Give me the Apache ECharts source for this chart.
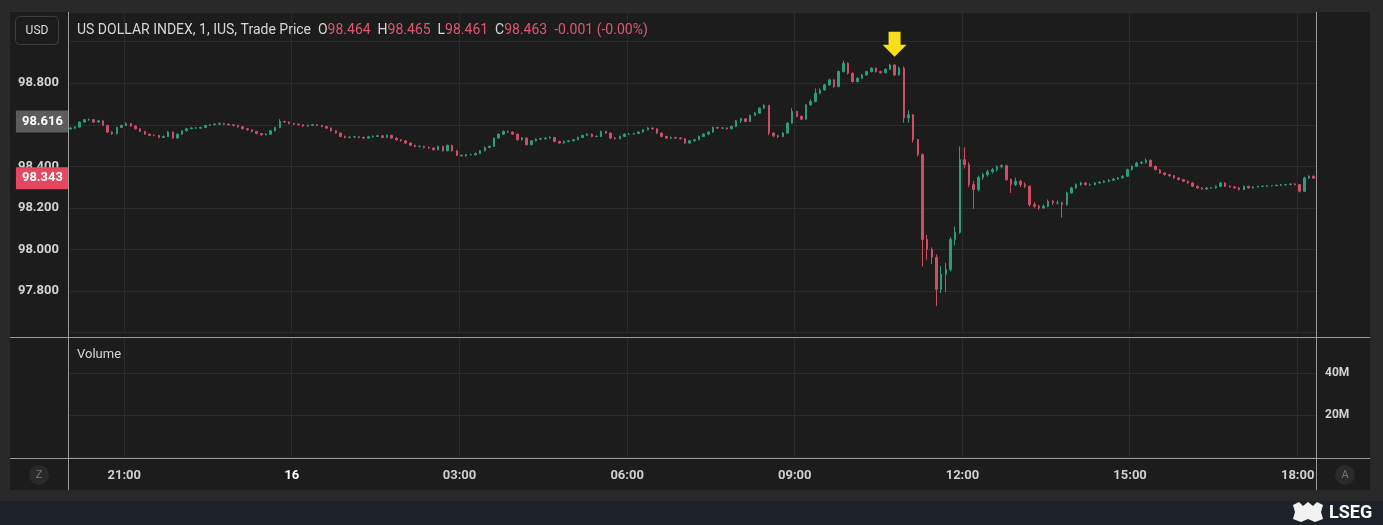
<!DOCTYPE html>
<html><head><meta charset="utf-8">
<script src="https://cdn.jsdelivr.net/npm/echarts@6/dist/echarts.min.js"></script>
<style>html,body{margin:0;padding:0;background:#262626;}#c{width:1383px;height:525px;}</style>
</head><body><div id="c"></div>
<script>
// ---- data (5-minute candles, start 20:00) ----
const startMinutes = 20 * 60;
const stepMinutes = 5;
const firstOpen = 98.580;
const closes = [
98.584,98.589,98.613,98.624,98.625,98.613,98.619,98.597,98.565,98.557,
98.587,98.597,98.606,98.594,98.581,98.568,98.555,98.549,98.549,98.539,
98.544,98.565,98.536,98.555,98.571,98.581,98.584,98.584,98.587,98.597,
98.600,98.603,98.606,98.603,98.600,98.597,98.590,98.581,98.576,98.568,
98.558,98.552,98.555,98.571,98.587,98.616,98.613,98.606,98.603,98.600,
98.594,98.597,98.600,98.597,98.592,98.584,98.571,98.560,98.544,98.539,
98.541,98.542,98.539,98.536,98.542,98.544,98.547,98.539,98.549,98.536,
98.528,98.523,98.512,98.501,98.496,98.496,98.491,98.488,98.480,98.496,
98.475,98.501,98.475,98.453,98.451,98.456,98.456,98.462,98.475,98.491,
98.496,98.536,98.555,98.568,98.565,98.555,98.528,98.536,98.504,98.523,
98.531,98.533,98.536,98.539,98.520,98.512,98.520,98.523,98.528,98.539,
98.549,98.555,98.544,98.544,98.568,98.560,98.536,98.533,98.544,98.555,
98.555,98.558,98.565,98.576,98.584,98.581,98.560,98.544,98.536,98.539,
98.536,98.533,98.512,98.523,98.528,98.544,98.555,98.565,98.587,98.584,
98.584,98.581,98.592,98.619,98.629,98.616,98.645,98.656,98.680,98.693,
98.560,98.547,98.544,98.560,98.608,98.664,98.640,98.627,98.696,98.712,
98.752,98.768,98.792,98.816,98.784,98.856,98.896,98.848,98.808,98.824,
98.840,98.856,98.872,98.856,98.851,98.867,98.888,98.840,98.872,98.634,
98.648,98.528,98.456,98.048,98.000,97.962,97.808,97.880,97.904,98.048,
98.082,98.432,98.408,98.312,98.288,98.346,98.360,98.374,98.384,98.398,
98.403,98.336,98.312,98.328,98.312,98.304,98.216,98.208,98.200,98.208,
98.232,98.224,98.224,98.216,98.272,98.296,98.312,98.320,98.312,98.312,
98.320,98.323,98.328,98.333,98.339,98.344,98.352,98.384,98.400,98.416,
98.419,98.429,98.400,98.384,98.368,98.360,98.355,98.344,98.336,98.328,
98.320,98.304,98.296,98.291,98.296,98.296,98.304,98.320,98.304,98.301,
98.296,98.288,98.304,98.296,98.301,98.304,98.304,98.307,98.307,98.309,
98.311,98.312,98.315,98.312,98.280,98.344,98.352,98.343];
const highs = [
98.590,98.593,98.617,98.628,98.630,98.627,98.624,98.621,98.600,98.568,
98.590,98.601,98.612,98.609,98.597,98.584,98.571,98.558,98.554,98.552,
98.548,98.570,98.567,98.558,98.574,98.585,98.588,98.589,98.591,98.600,
98.604,98.607,98.611,98.609,98.606,98.603,98.600,98.593,98.584,98.579,
98.571,98.561,98.559,98.574,98.590,98.627,98.620,98.616,98.609,98.606,
98.603,98.601,98.604,98.603,98.600,98.595,98.587,98.574,98.563,98.548,
98.545,98.547,98.546,98.543,98.547,98.549,98.552,98.550,98.554,98.552,
98.539,98.531,98.526,98.515,98.505,98.501,98.499,98.495,98.491,98.500,
98.499,98.505,98.504,98.478,98.457,98.460,98.461,98.466,98.479,98.495,
98.501,98.540,98.559,98.573,98.572,98.569,98.558,98.541,98.539,98.527,
98.535,98.537,98.540,98.544,98.542,98.523,98.524,98.527,98.532,98.543,
98.553,98.560,98.558,98.549,98.572,98.571,98.563,98.540,98.548,98.559,
98.560,98.562,98.569,98.580,98.588,98.587,98.583,98.563,98.547,98.543,
98.542,98.540,98.536,98.527,98.532,98.548,98.559,98.569,98.591,98.590,
98.589,98.588,98.596,98.623,98.634,98.632,98.649,98.661,98.684,98.699,
98.697,98.563,98.552,98.565,98.612,98.680,98.668,98.645,98.700,98.722,
98.775,98.776,98.797,98.822,98.820,98.862,98.909,98.900,98.852,98.829,
98.845,98.860,98.877,98.876,98.861,98.872,98.893,98.891,98.880,98.880,
98.670,98.652,98.532,98.463,98.070,98.010,97.975,97.920,97.935,98.060,
98.110,98.496,98.492,98.420,98.330,98.355,98.370,98.385,98.392,98.405,
98.410,98.408,98.342,98.345,98.335,98.322,98.308,98.228,98.215,98.218,
98.240,98.238,98.235,98.230,98.278,98.302,98.318,98.326,98.325,98.318,
98.325,98.328,98.333,98.338,98.344,98.349,98.357,98.389,98.405,98.422,
98.425,98.437,98.432,98.404,98.388,98.372,98.364,98.358,98.348,98.340,
98.332,98.324,98.308,98.300,98.300,98.301,98.308,98.325,98.323,98.308,
98.305,98.300,98.308,98.307,98.305,98.307,98.307,98.310,98.310,98.312,
98.314,98.315,98.318,98.319,98.315,98.350,98.357,98.356];
const lows = [
98.576,98.580,98.586,98.610,98.619,98.609,98.610,98.594,98.561,98.551,
98.554,98.584,98.594,98.590,98.578,98.565,98.552,98.545,98.545,98.535,
98.536,98.541,98.532,98.533,98.552,98.568,98.578,98.580,98.581,98.584,
98.594,98.597,98.600,98.599,98.596,98.593,98.586,98.577,98.572,98.564,
98.554,98.548,98.549,98.552,98.568,98.584,98.609,98.602,98.599,98.596,
98.590,98.591,98.594,98.593,98.588,98.580,98.567,98.556,98.540,98.535,
98.535,98.537,98.535,98.532,98.533,98.538,98.541,98.535,98.536,98.532,
98.524,98.519,98.508,98.497,98.492,98.491,98.487,98.484,98.476,98.477,
98.471,98.472,98.471,98.449,98.446,98.447,98.452,98.452,98.459,98.472,
98.487,98.493,98.533,98.551,98.561,98.551,98.524,98.524,98.500,98.501,
98.519,98.527,98.529,98.532,98.516,98.508,98.509,98.516,98.519,98.525,
98.536,98.546,98.540,98.540,98.541,98.556,98.532,98.529,98.530,98.541,
98.551,98.552,98.555,98.562,98.573,98.577,98.556,98.540,98.532,98.532,
98.532,98.529,98.508,98.509,98.519,98.525,98.541,98.552,98.562,98.580,
98.580,98.577,98.578,98.589,98.608,98.612,98.613,98.642,98.653,98.677,
98.550,98.541,98.536,98.540,98.557,98.605,98.636,98.622,98.624,98.692,
98.708,98.748,98.764,98.788,98.778,98.780,98.852,98.842,98.803,98.804,
98.820,98.836,98.852,98.851,98.846,98.847,98.863,98.835,98.836,98.610,
98.610,98.514,98.448,97.918,97.950,97.930,97.728,97.790,97.795,97.895,
98.020,98.075,98.390,98.300,98.195,98.280,98.335,98.350,98.365,98.376,
98.390,98.330,98.272,98.305,98.300,98.296,98.205,98.198,98.190,98.195,
98.203,98.215,98.216,98.154,98.210,98.268,98.292,98.306,98.307,98.306,
98.308,98.316,98.319,98.324,98.329,98.335,98.340,98.348,98.380,98.396,
98.410,98.414,98.396,98.380,98.364,98.356,98.350,98.340,98.332,98.324,
98.316,98.300,98.292,98.287,98.287,98.292,98.292,98.300,98.300,98.297,
98.292,98.284,98.285,98.292,98.293,98.298,98.301,98.302,98.304,98.305,
98.306,98.308,98.309,98.308,98.274,98.276,98.340,98.339];
const volumes = [];            // no volume bars visible in the reference
const tickLabels = {'21:00':'21:00','00:00':'16','03:00':'03:00','06:00':'06:00','09:00':'09:00','12:00':'12:00','15:00':'15:00','18:00':'18:00'};
const refPrice = 98.616;
const lastPrice = 98.343;
const arrowCandle = 177;
const headerTitle = 'US DOLLAR INDEX, 1, IUS, Trade Price';
const headerO = '98.464', headerH = '98.465', headerL = '98.461', headerC = '98.463', headerChg = '-0.001 (-0.00%)';
const priceMin = 97.6, priceMax = 99.143, priceStep = 0.2;
const volMax = 57.14e6, volStep = 20e6;

// ---- build ----
const cats = closes.map((c, i) => {
  const m = startMinutes + i * stepMinutes;
  const hh = Math.floor(m / 60) % 24, mm = m % 60;
  return String(hh).padStart(2, '0') + ':' + String(mm).padStart(2, '0');
});
const candles = closes.map((c, i) => [i === 0 ? firstOpen : closes[i - 1], c, lows[i], highs[i]]);
const isTick = (idx) => Object.prototype.hasOwnProperty.call(tickLabels, cats[idx]);

const UP = '#2a9e7c', DOWN = '#cf4d67';
const GRID = '#2b2b2b';
const SEP = '#9a9a9a';
const FONT = 'Roboto, "Noto Sans", sans-serif';

const chart = echarts.init(document.getElementById('c'), null, {renderer: 'canvas'});
chart.setOption({
  backgroundColor: '#1c1c1c',
  animation: false,
  textStyle: {fontFamily: FONT},
  grid: [
    {left: 68, right: 67, top: 12, height: 320.5},
    {left: 68, right: 67, top: 337, height: 120}
  ],
  xAxis: [
    {type: 'category', gridIndex: 0, data: cats, boundaryGap: true,
     axisLine: {show: false}, axisTick: {show: false}, axisLabel: {show: false},
     splitLine: {show: true, interval: (i) => isTick(i), lineStyle: {color: GRID, width: 1}}},
    {type: 'category', gridIndex: 1, data: cats, boundaryGap: true,
     axisLine: {show: false}, axisTick: {show: false},
     axisLabel: {show: true, interval: (i) => isTick(i), margin: 12, padding: [0, 4, 0, 0],
       formatter: (v) => tickLabels[v] === '16' ? '{d|16}' : '{t|' + tickLabels[v] + '}',
       rich: {t: {color: '#cfcfcf', fontSize: 13, fontWeight: 'bold', fontFamily: FONT},
              d: {color: '#ffffff', fontSize: 13, fontWeight: 'bold', fontFamily: FONT}}},
     splitLine: {show: true, interval: (i) => isTick(i), lineStyle: {color: GRID, width: 1}}}
  ],
  yAxis: [
    {type: 'value', gridIndex: 0, position: 'left', min: priceMin, max: priceMax, interval: priceStep,
     axisLine: {show: false}, axisTick: {show: false},
     splitLine: {show: true, lineStyle: {color: GRID, width: 1}},
     axisLabel: {show: true, margin: 9, color: '#d2d2d2', fontSize: 13, fontWeight: 'bold', fontFamily: FONT,
       showMaxLabel: false,
       formatter: (v) => (v < 97.7 || v > 98.95) ? '' : v.toFixed(3)}},
    {type: 'value', gridIndex: 1, position: 'right', min: 0, max: volMax, interval: volStep,
     axisLine: {show: false}, axisTick: {show: false},
     splitLine: {show: true, lineStyle: {color: GRID, width: 1}},
     axisLabel: {show: true, margin: 9, color: '#d2d2d2', fontSize: 12, fontWeight: 'bold', fontFamily: FONT,
       showMaxLabel: false, formatter: (v) => v === 0 ? '' : (v / 1e6) + 'M'}}
  ],
  series: [
    {type: 'candlestick', name: 'US DOLLAR INDEX', xAxisIndex: 0, yAxisIndex: 0, data: candles,
     clip: false, barWidth: 2,
     itemStyle: {color: UP, color0: DOWN, borderColor: UP, borderColor0: DOWN, borderWidth: 1},
     markLine: {silent: true, symbol: 'none', animation: false, z: 10, precision: 3,
       lineStyle: {color: 'rgba(0,0,0,0)', width: 1, type: 'solid'},
       label: {show: true, position: 'start', distance: 0, color: '#ffffff', fontSize: 13, fontWeight: 'bold',
               fontFamily: FONT, padding: [5, 5, 4, 6], formatter: (p) => Number(p.value).toFixed(3)},
       data: [
         {yAxis: refPrice, label: {backgroundColor: '#5c5c5c', color: '#ffffff'}},
         {yAxis: lastPrice, label: {backgroundColor: '#e4475f', color: '#ffffff'}}
       ]},
     markPoint: {silent: true, animation: false,
       data: [{coord: [cats[arrowCandle], highs[arrowCandle]],
               symbol: 'path://M6,0 L18,0 L18,13 L24,13 L12,25 L0,13 L6,13 Z',
               symbolSize: [24, 25], symbolOffset: [0, -20],
               itemStyle: {color: '#f6e01b'}, label: {show: false}}]}
    },
    {type: 'bar', name: 'Volume', xAxisIndex: 1, yAxisIndex: 1, data: volumes}
  ],
  graphic: [
    // outer frame around the panel
    {type: 'rect', z: 100, shape: {x: 0, y: 0, width: 1383, height: 12}, style: {fill: '#292929'}},
    {type: 'rect', z: 100, shape: {x: 0, y: 0, width: 10, height: 525}, style: {fill: '#292929'}},
    {type: 'rect', z: 100, shape: {x: 1370, y: 0, width: 13, height: 525}, style: {fill: '#292929'}},
    {type: 'rect', z: 100, shape: {x: 0, y: 490, width: 1383, height: 11}, style: {fill: '#292929'}},
    {type: 'rect', z: 100, shape: {x: 0, y: 501, width: 1383, height: 24}, style: {fill: '#1d212a'}},
    // separators
    {type: 'line', z: 101, shape: {x1: 10, y1: 337.5, x2: 1370, y2: 337.5}, style: {stroke: SEP, lineWidth: 1}},
    {type: 'line', z: 101, shape: {x1: 10, y1: 458.5, x2: 1370, y2: 458.5}, style: {stroke: SEP, lineWidth: 1}},
    {type: 'line', z: 101, shape: {x1: 68.5, y1: 12, x2: 68.5, y2: 490}, style: {stroke: SEP, lineWidth: 1}},
    {type: 'line', z: 101, shape: {x1: 1316.5, y1: 12, x2: 1316.5, y2: 490}, style: {stroke: SEP, lineWidth: 1}},
    // header
    {type: 'rect', z: 101, shape: {x: 15.5, y: 16.5, width: 43, height: 28, r: 4}, style: {fill: '#1c1c1c', stroke: '#3d3d3d', lineWidth: 1}},
    {type: 'text', z: 102, style: {x: 37, y: 31, text: 'USD', fill: '#dcdcdc', font: '12px ' + FONT, align: 'center', verticalAlign: 'middle'}},
    {type: 'text', z: 102, style: {x: 77, y: 30, verticalAlign: 'middle', font: '14px ' + FONT,
      text: '{t|' + headerTitle + '}  {k|O}{v|' + headerO + '}  {k|H}{v|' + headerH + '}  {k|L}{v|' + headerL + '}  {k|C}{v|' + headerC + '}  {v|' + headerChg + '}',
      rich: {t: {fill: '#d6d6d6', fontSize: 14, fontFamily: FONT},
             k: {fill: '#d6d6d6', fontSize: 14, fontFamily: FONT},
             v: {fill: '#e1566f', fontSize: 14, fontFamily: FONT}}}},
    {type: 'text', z: 102, style: {x: 77, y: 355, text: 'Volume', fill: '#d6d6d6', font: '13px ' + FONT, verticalAlign: 'middle'}},
    // Z / A buttons
    {type: 'circle', z: 101, shape: {cx: 39, cy: 475, r: 10}, style: {fill: '#2a2a2a'}},
    {type: 'text', z: 102, style: {x: 39, y: 475, text: 'Z', fill: '#747474', font: '11px ' + FONT, align: 'center', verticalAlign: 'middle'}},
    {type: 'circle', z: 101, shape: {cx: 1345, cy: 475, r: 10}, style: {fill: '#2a2a2a'}},
    {type: 'text', z: 102, style: {x: 1345, y: 475, text: 'A', fill: '#747474', font: '11px ' + FONT, align: 'center', verticalAlign: 'middle'}},
    // LSEG logo
    {type: 'polygon', z: 102, shape: {points: [[1293,505],[1299,502],[1303,506],[1308,502],[1313,506],[1317,502],[1323,505],[1321,512],[1323,519],[1315,522],[1308,519],[1301,522],[1293,519],[1295,512]]}, style: {fill: '#f2f2f2'}},
    {type: 'text', z: 102, style: {x: 1329, y: 513, text: 'LSEG', fill: '#ffffff', font: 'bold 18px ' + FONT, verticalAlign: 'middle'}}
  ]
});
</script></body></html>
